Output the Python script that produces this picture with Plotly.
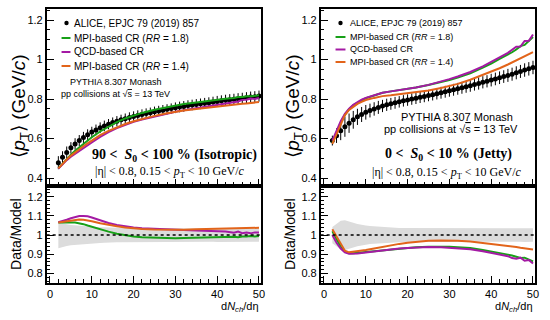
import plotly.graph_objects as go

# ---------------- data ----------------
x_data = list(range(2, 51))

iso_data = [0.478, 0.505, 0.530, 0.553, 0.573, 0.590, 0.606, 0.620, 0.633, 0.644,
            0.655, 0.664, 0.673, 0.681, 0.688, 0.695, 0.701, 0.707, 0.712, 0.717,
            0.722, 0.727, 0.731, 0.736, 0.740, 0.744, 0.748, 0.752, 0.756, 0.760,
            0.763, 0.767, 0.770, 0.773, 0.776, 0.779, 0.782, 0.785, 0.788, 0.791,
            0.794, 0.797, 0.799, 0.802, 0.804, 0.807, 0.810, 0.812, 0.815]
iso_err = [0.033, 0.031, 0.030, 0.029, 0.029, 0.028, 0.028, 0.027, 0.027, 0.027,
           0.027, 0.027, 0.026, 0.026, 0.026, 0.026, 0.026, 0.026, 0.026, 0.026,
           0.026, 0.026, 0.026, 0.026, 0.026, 0.026, 0.026, 0.026, 0.027, 0.027,
           0.027, 0.027, 0.027, 0.027, 0.027, 0.027, 0.027, 0.027, 0.028, 0.028,
           0.028, 0.028, 0.028, 0.028, 0.028, 0.028, 0.028, 0.028, 0.028]

jet_data = [0.590, 0.615, 0.640, 0.660, 0.678, 0.695, 0.710, 0.722, 0.733, 0.742,
            0.750, 0.758, 0.765, 0.771, 0.776, 0.781, 0.786, 0.791, 0.795, 0.800,
            0.804, 0.809, 0.813, 0.818, 0.822, 0.827, 0.832, 0.837, 0.842, 0.847,
            0.852, 0.857, 0.862, 0.868, 0.874, 0.879, 0.885, 0.890, 0.896, 0.902,
            0.908, 0.914, 0.920, 0.926, 0.933, 0.940, 0.947, 0.953, 0.960]
jet_err = [0.025, 0.037, 0.048, 0.051, 0.049, 0.045, 0.041, 0.038, 0.037, 0.035,
           0.034, 0.033, 0.031, 0.031, 0.030, 0.030, 0.029, 0.029, 0.029, 0.029,
           0.029, 0.029, 0.029, 0.029, 0.029, 0.029, 0.030, 0.030, 0.030, 0.030,
           0.030, 0.030, 0.030, 0.031, 0.031, 0.031, 0.031, 0.031, 0.032, 0.032,
           0.032, 0.032, 0.033, 0.033, 0.033, 0.033, 0.034, 0.034, 0.034]

x_model = [2, 3, 4, 5, 6, 7, 8, 9, 10, 12, 14, 16, 18, 20, 22, 25, 28, 30, 32, 35,
           38, 40, 42, 44, 45, 46, 47, 48, 49, 50]

iso_green = [0.449, 0.474, 0.497, 0.519, 0.538, 0.556, 0.573, 0.590, 0.607, 0.636,
             0.661, 0.683, 0.702, 0.717, 0.730, 0.746, 0.760, 0.768, 0.775, 0.783,
             0.792, 0.797, 0.802, 0.806, 0.811, 0.810, 0.814, 0.814, 0.818, 0.819]
iso_qcd = [0.448, 0.471, 0.491, 0.508, 0.523, 0.537, 0.551, 0.565, 0.580, 0.608,
           0.633, 0.653, 0.670, 0.685, 0.697, 0.713, 0.727, 0.736, 0.744, 0.755,
           0.765, 0.773, 0.779, 0.788, 0.788, 0.796, 0.797, 0.803, 0.801, 0.805]
iso_orange = [0.449, 0.473, 0.494, 0.514, 0.531, 0.546, 0.561, 0.576, 0.591, 0.617,
              0.639, 0.658, 0.674, 0.688, 0.700, 0.715, 0.728, 0.736, 0.742, 0.750,
              0.758, 0.763, 0.768, 0.772, 0.774, 0.776, 0.778, 0.781, 0.782, 0.785]

iso_r_green = [1.065, 1.066, 1.066, 1.066, 1.065, 1.062, 1.057, 1.050, 1.043, 1.030,
               1.018, 1.007, 0.999, 0.993, 0.989, 0.986, 0.984, 0.984, 0.985, 0.987,
               0.988, 0.989, 0.990, 0.991, 0.989, 0.993, 0.992, 0.995, 0.993, 0.995]
iso_r_qcd = [1.067, 1.072, 1.080, 1.088, 1.095, 1.099, 1.100, 1.098, 1.092, 1.077,
             1.063, 1.053, 1.046, 1.040, 1.036, 1.032, 1.029, 1.027, 1.026, 1.024,
             1.022, 1.020, 1.019, 1.012, 1.018, 1.010, 1.013, 1.009, 1.014, 1.013]
iso_r_orange = [1.065, 1.068, 1.072, 1.076, 1.079, 1.081, 1.080, 1.077, 1.072, 1.062,
                1.053, 1.046, 1.040, 1.035, 1.032, 1.029, 1.027, 1.027, 1.028, 1.030,
                1.032, 1.033, 1.034, 1.035, 1.036, 1.036, 1.037, 1.037, 1.038, 1.038]

jet_green = [0.578, 0.628, 0.681, 0.721, 0.749, 0.768, 0.782, 0.793, 0.804, 0.819,
             0.832, 0.839, 0.845, 0.852, 0.859, 0.871, 0.885, 0.897, 0.909, 0.931,
             0.960, 0.979, 1.003, 1.024, 1.037, 1.051, 1.068, 1.074, 1.093, 1.114]
jet_qcd = [0.590, 0.641, 0.688, 0.725, 0.751, 0.771, 0.785, 0.797, 0.806, 0.820,
           0.832, 0.839, 0.845, 0.852, 0.859, 0.872, 0.888, 0.901, 0.914, 0.937,
           0.966, 0.987, 1.011, 1.034, 1.052, 1.065, 1.066, 1.094, 1.095, 1.127]
jet_orange = [0.573, 0.621, 0.674, 0.719, 0.745, 0.762, 0.776, 0.786, 0.795, 0.806,
              0.815, 0.819, 0.824, 0.828, 0.833, 0.843, 0.856, 0.866, 0.877, 0.898,
              0.922, 0.938, 0.956, 0.975, 0.985, 0.995, 1.006, 1.016, 1.027, 1.038]

jet_r_green = [1.020, 0.980, 0.940, 0.915, 0.905, 0.905, 0.908, 0.910, 0.912, 0.916,
               0.920, 0.925, 0.930, 0.933, 0.936, 0.939, 0.940, 0.939, 0.937, 0.932,
               0.922, 0.915, 0.905, 0.898, 0.893, 0.888, 0.880, 0.882, 0.872, 0.862]
jet_r_qcd = [1.000, 0.960, 0.930, 0.910, 0.903, 0.902, 0.904, 0.906, 0.909, 0.915,
             0.920, 0.925, 0.930, 0.933, 0.936, 0.938, 0.937, 0.935, 0.932, 0.926,
             0.916, 0.908, 0.898, 0.890, 0.880, 0.876, 0.882, 0.866, 0.870, 0.852]
jet_r_orange = [1.030, 0.990, 0.950, 0.918, 0.910, 0.912, 0.915, 0.918, 0.922, 0.930,
                0.939, 0.947, 0.954, 0.960, 0.965, 0.970, 0.972, 0.972, 0.971, 0.967,
                0.960, 0.955, 0.950, 0.944, 0.940, 0.938, 0.934, 0.932, 0.928, 0.925]

legend_labels = ["ALICE, EPJC 79 (2019) 857", "MPI-based CR (<i>RR</i> = 1.8)",
                 "QCD-based CR", "MPI-based CR (<i>RR</i> = 1.4)"]

# ---------------- style ----------------
W, H = 550, 320
C_GREEN = "#17a017"
C_PURPLE = "#a41aa4"
C_ORANGE = "#e2641a"
C_BAND = "#dcdcdc"
SANS = "Liberation Sans, Arial, sans-serif"
SERIF = "Liberation Serif, Times New Roman, serif"


def px(x):
    return x / W


def py(y):
    return 1 - y / H


XL = [px(47), px(263)]
XR = [px(323), px(539)]
YT = [py(186), py(9)]
YB = [py(283), py(186)]

fig = go.Figure()

panels = [
    ("x", "y", "x2", "y2", iso_data, iso_err,
     [iso_green, iso_qcd, iso_orange], [iso_r_green, iso_r_qcd, iso_r_orange]),
    ("x3", "y3", "x4", "y4", jet_data, jet_err,
     [jet_green, jet_qcd, jet_orange], [jet_r_green, jet_r_qcd, jet_r_orange]),
]
colors = [C_GREEN, C_PURPLE, C_ORANGE]

for xt, yt, xb, yb, d, e, models, ratios in panels:
    rel = [ei / di for ei, di in zip(e, d)]
    # ratio band (data uncertainty)
    fig.add_trace(go.Scatter(x=x_data, y=[1 - r for r in rel], xaxis=xb, yaxis=yb,
                             mode="lines", line=dict(width=0, color=C_BAND),
                             showlegend=False, hoverinfo="skip"))
    fig.add_trace(go.Scatter(x=x_data, y=[1 + r for r in rel], xaxis=xb, yaxis=yb,
                             mode="lines", line=dict(width=0, color=C_BAND),
                             fill="tonexty", fillcolor=C_BAND,
                             showlegend=False, hoverinfo="skip"))
    # data points
    fig.add_trace(go.Scatter(x=x_data, y=d, xaxis=xt, yaxis=yt, mode="markers",
                             marker=dict(color="black", size=5),
                             error_y=dict(type="data", array=e, visible=True,
                                          color="black", thickness=1, width=0),
                             showlegend=False))
    for m, r, c in zip(models, ratios, colors):
        fig.add_trace(go.Scatter(x=x_model, y=m, xaxis=xt, yaxis=yt, mode="lines",
                                 line=dict(color=c, width=2), showlegend=False))
        fig.add_trace(go.Scatter(x=x_model, y=r, xaxis=xb, yaxis=yb, mode="lines",
                                 line=dict(color=c, width=2), showlegend=False))

axis_common = dict(showgrid=False, zeroline=False, showline=True, linewidth=1.5,
                   linecolor="black", mirror=True, ticks="inside", tickcolor="black",
                   tickwidth=1, tickfont=dict(family=SANS, size=11, color="black"))


def xaxis(domain, anchor, labels):
    return dict(axis_common, domain=domain, anchor=anchor, range=[-0.8, 50.5],
                tick0=0, dtick=10, ticklen=7, showticklabels=labels,
                minor=dict(ticks="inside", dtick=2, ticklen=4, tickcolor="black",
                           tickwidth=1))


def yaxis_top(domain, anchor):
    return dict(axis_common, domain=domain, anchor=anchor, range=[0.36, 1.256],
                tick0=0.4, dtick=0.2, ticklen=8,
                minor=dict(ticks="inside", dtick=0.05, ticklen=4, tickcolor="black",
                           tickwidth=1))


def yaxis_bot(domain, anchor):
    return dict(axis_common, domain=domain, anchor=anchor, range=[0.75, 1.256],
                tick0=0.8, dtick=0.1, ticklen=8,
                minor=dict(ticks="inside", dtick=0.02, ticklen=4, tickcolor="black",
                           tickwidth=1))


fig.update_layout(
    width=W, height=H, margin=dict(l=0, r=0, t=0, b=0),
    paper_bgcolor="white", plot_bgcolor="white", showlegend=False,
    xaxis=xaxis(XL, "y", False), yaxis=yaxis_top(YT, "x"),
    xaxis2=xaxis(XL, "y2", True), yaxis2=yaxis_bot(YB, "x2"),
    xaxis3=xaxis(XR, "y3", False), yaxis3=yaxis_top(YT, "x3"),
    xaxis4=xaxis(XR, "y4", True), yaxis4=yaxis_bot(YB, "x4"),
)

# dotted unity lines
for xr, yr in [("x2", "y2"), ("x4", "y4")]:
    fig.add_shape(type="line", xref=f"{xr} domain", yref=yr, x0=0, x1=1, y0=1, y1=1,
                  line=dict(color="black", width=1.5, dash="dot"), layer="above")

anns = []


def ann(text, x, y, size, family=SANS, xanchor="center", angle=0, color="black"):
    anns.append(dict(text=text, x=px(x), y=py(y), xref="paper", yref="paper",
                     showarrow=False, xanchor=xanchor, yanchor="middle",
                     textangle=angle, font=dict(family=family, size=size, color=color)))


# legends
leg_cfg = [
    # marker x, line x0, x1, text x, ys, font size
    (67, 62, 71, 73, [23, 38, 52, 66], 10),
    (343, 338, 348, 351, [23, 37, 49.5, 62], 9),
]
for mx, lx0, lx1, tx, ys, fs in leg_cfg:
    fig.add_shape(type="circle", xref="paper", yref="paper",
                  x0=px(mx - 2.2), x1=px(mx + 2.2), y0=py(ys[0] + 2.2), y1=py(ys[0] - 2.2),
                  fillcolor="black", line=dict(width=0))
    for yy, c in zip(ys[1:], colors):
        fig.add_shape(type="line", xref="paper", yref="paper",
                      x0=px(lx0), x1=px(lx1), y0=py(yy), y1=py(yy),
                      line=dict(color=c, width=2))
    for yy, t in zip(ys, legend_labels):
        ann(t, tx, yy, fs, xanchor="left")

sqrt_s = "pp collisions at √<span style='text-decoration:overline'>s</span> = 13 TeV"
ann("PYTHIA 8.307 Monash", 117, 82, 9)
ann(sqrt_s, 116, 94, 9)
ann("PYTHIA 8.307 Monash", 460, 117, 11)
ann(sqrt_s, 454, 129, 11)

ann("<b>90 <  <i>S</i><sub>0</sub> < 100 % (Isotropic)</b>", 176, 155, 14, family=SERIF)
ann("<b>0 <  <i>S</i><sub>0</sub> < 10 % (Jetty)</b>", 452, 154, 14, family=SERIF)
eta = "|η| < 0.8, 0.15 < <i>p</i><sub>T</sub> < 10 GeV/<i>c</i>"
ann(eta, 171, 172, 12, family=SERIF)
ann(eta, 450, 173, 12, family=SERIF)

ytitle = "⟨<i>p</i><sub>T</sub>⟩ (GeV/<i>c</i>)"
ann(ytitle, 20, 106, 19, angle=-90)
ann(ytitle, 296, 106, 19, angle=-90)
ann("Data/Model", 16, 234, 14, angle=-90)
ann("Data/Model", 292, 234, 14, angle=-90)
xt = "d<i>N</i><sub><i>ch</i></sub>/dη"
ann(xt, 263, 307, 11, xanchor="right")
ann(xt, 539, 307, 11, xanchor="right")

fig.update_layout(annotations=anns)
fig.write_html("out.html", config={"displayModeBar": False},
               post_script="document.body.style.margin='0';document.body.style.padding='0';")
